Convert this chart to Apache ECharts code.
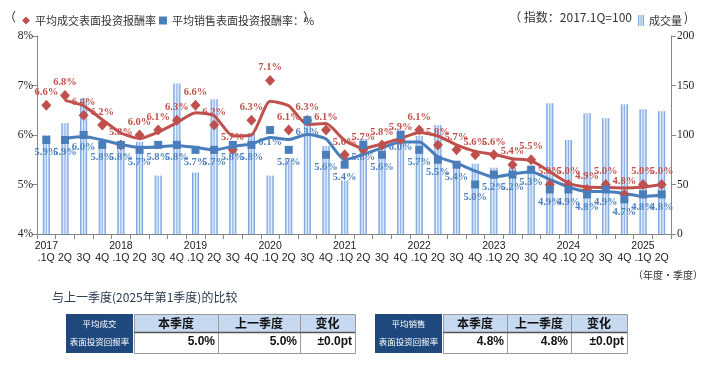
<!DOCTYPE html>
<html><head><meta charset="utf-8">
<script src="https://cdn.jsdelivr.net/npm/echarts@6/dist/echarts.min.js"></script>
<style>html,body{margin:0;padding:0;background:#fff}#c{width:710px;height:372px}</style>
</head><body><div id="c"></div>
<script>
// ---- data ----
const years = ['2017','2018','2019','2020','2021','2022','2023','2024','2025'];
const quarters = ['.1Q','2Q','3Q','4Q'];
const lastYearQuarters = 2;
const nameDeal = '平均成交表面投资报酬率';
const nameAsk = '平均销售表面投资报酬率';
const nameVolume = '成交量';
// transaction yield (%), diamonds
const yieldDeal = [6.6,6.8,6.4,6.2, 5.8,6.0,6.1,6.3, 6.6,6.2,5.7,6.3, 7.1,6.1,6.3,6.1,
                   5.6,5.7,5.8,5.9, 6.1,5.8,5.7,5.6, 5.6,5.4,5.5,5.0, 5.0,4.9,5.0,4.8, 5.0,5.0];
// asking yield (%), squares
const yieldAsk = [5.9,5.9,6.0,5.8, 5.8,5.7,5.8,5.8, 5.7,5.7,5.8,5.8, 6.1,5.7,6.3,5.6,
                  5.4,5.8,5.6,6.0, 5.7,5.5,5.4,5.0, 5.2,5.2,5.3,4.9, 4.9,4.8,4.9,4.7, 4.8,4.8];
// trend lines
const trendDeal = [null,6.70,6.59,6.31, 6.04,5.93,6.06,6.25, 6.45,6.39,5.98,6.00, 6.68,6.59,6.21,6.23,
                   5.89,5.73,5.82,5.93, 6.05,5.98,5.80,5.67, 5.61,5.52,5.48,5.26, 5.03,4.95,4.94,4.93, 4.95,5.00];
const trendAsk = [null,5.93,5.97,5.90, 5.81,5.75,5.76,5.79, 5.75,5.70,5.77,5.82, 5.95,5.91,6.01,5.92,
                  5.50,5.61,5.74,5.86, 5.86,5.56,5.43,5.27, 5.15,5.21,5.26,5.10, 4.95,4.86,4.86,4.82, 4.76,4.79];
// volume index (2017.1Q = 100)
const volume = [100,112,137,90, 93,93,59,152, 62,136,94,102, 59,75,116,89,
                54,96,89,105, 99,110,72,71, 67,67,68,132, 95,122,117,131, 126,124];
const leftTicks = {min:4, max:8, interval:1};
const rightTicks = {min:0, max:200, interval:50};
const tableHeaders = ['本季度','上一季度','变化'];
const tableRowNames = [['平均成交','表面投资回报率'],['平均销售','表面投资回报率']];
const compareTitle = '与上一季度(2025年第1季度)的比较';

// ---- build ----
const categories = [];
years.forEach((y,i)=>{
  const n = i===years.length-1 ? lastYearQuarters : 4;
  for(let q=0;q<n;q++) categories.push(q===0 ? y+'\n'+quarters[q] : '\n'+quarters[q]);
});

const RED = '#c0504d', BLUE = '#4a7ebb', TXT = '#333';
const serif = '"Liberation Serif","DejaVu Serif",serif';
const sans = '"Liberation Sans",Arial,sans-serif';
const cjk = '"Noto Sans CJK SC","Noto Sans",sans-serif';

const barColor = new echarts.graphic.LinearGradient(0,0,1,0,[
  {offset:0,color:'#5b8ed6'},{offset:0.18,color:'#a9c6ee'},{offset:0.32,color:'#eef4fc'},
  {offset:0.5,color:'#87aee4'},{offset:0.68,color:'#eef4fc'},{offset:0.82,color:'#a9c6ee'},{offset:1,color:'#5b8ed6'}]);

function fmt(v){return v.toFixed(1)+'%';}
function change(a,b){const d=a-b; return (Math.abs(d)<0.05?'±':(d>0?'+':'-'))+Math.abs(d).toFixed(1)+'pt';}

const graphics = [];
function txt(x,y,t,opt){graphics.push({type:'text',x:x,y:y,silent:true,style:Object.assign({text:t,fill:TXT,font:'11px '+cjk,textVerticalAlign:'middle'},opt||{})});}
function rect(x,y,w,h,fill,stroke){graphics.push({type:'rect',shape:{x:x,y:y,width:w,height:h},silent:true,style:{fill:fill,stroke:stroke||null,lineWidth:1}});}

// header texts
txt(4,17,'（',{font:'12px '+cjk});
txt(303,17,'）',{font:'12px '+cjk});
txt(632,17,'（ 指数：2017.1Q=100',{font:'12px '+cjk,textAlign:'right'});
txt(684,17,')',{font:'12px '+cjk});
txt(703,275,'（年度·季度）',{font:'10px '+cjk,textAlign:'right'});
// comparison title
txt(52,297,compareTitle,{font:'12px '+cjk,fill:'#2a3a50'});

function table(x0,cols,rowName,vals){
  const top=314, mid=332, bot=353;
  rect(x0,top,cols[0]-x0-1,bot-top,'#1f497d');
  txt((x0+cols[0]-1)/2,324,rowName[0],{font:'8.5px '+cjk,fill:'#fff',textAlign:'center'});
  txt((x0+cols[0]-1)/2,342,rowName[1],{font:'8.5px '+cjk,fill:'#fff',textAlign:'center'});
  for(let i=0;i<3;i++){
    const a=cols[i], b=cols[i+1];
    rect(a+0.5,top+0.5,b-a,mid-top,'#c6d9f1','#9a9a9a');
    rect(a+0.5,mid+0.5,b-a,bot-mid,'#ffffff','#9a9a9a');
    txt((a+b)/2,323,tableHeaders[i],{font:'bold 12px '+cjk,fill:'#111',textAlign:'center'});
    txt(b-3,342,vals[i],{font:'bold 12px '+sans,fill:'#111',textAlign:'right'});
  }
  graphics.push({type:'line',silent:true,shape:{x1:cols[0],y1:mid+0.5,x2:cols[3],y2:mid+0.5},style:{stroke:'#555',lineWidth:1.5}});
}
const n = yieldDeal.length;
table(66,[134,218,300,355],tableRowNames[0],[fmt(yieldDeal[n-1]),fmt(yieldDeal[n-2]),change(yieldDeal[n-1],yieldDeal[n-2])]);
table(375,[443,507,571,627],tableRowNames[1],[fmt(yieldAsk[n-1]),fmt(yieldAsk[n-2]),change(yieldAsk[n-1],yieldAsk[n-2])]);

const axisLineStyle = {show:true,lineStyle:{color:'#868686',width:1}};
const option = {
  animation:false,
  backgroundColor:'#fff',
  grid:{left:37,right:39,top:36,bottom:138},
  legend:[
    {left:17,top:10,itemWidth:8,itemHeight:8,itemGap:3,selectedMode:false,
     textStyle:{fontSize:11,fontFamily:cjk,color:TXT},
     formatter:function(name){return name===nameAsk? name+'：%' : name;},
     data:[{name:nameDeal,icon:'diamond'},{name:nameAsk,icon:'rect'}]},
    {left:633,top:10,itemWidth:6,itemHeight:11,selectedMode:false,
     textStyle:{fontSize:11,fontFamily:cjk,color:TXT},
     data:[{name:nameVolume,icon:'rect'}]}
  ],
  xAxis:{type:'category',data:categories,boundaryGap:true,
    axisLine:axisLineStyle,
    axisTick:{show:true,length:5,lineStyle:{color:'#868686'}},
    axisLabel:{interval:0,fontSize:10.5,fontFamily:sans,color:'#222',lineHeight:12,margin:6},
    splitLine:{show:false}},
  yAxis:[
    {type:'value',min:leftTicks.min,max:leftTicks.max,interval:leftTicks.interval,
     axisLine:axisLineStyle,axisTick:{show:true,length:5,lineStyle:{color:'#868686'}},
     axisLabel:{formatter:'{value}%',fontSize:11.5,fontFamily:serif,color:'#222',margin:4},
     splitLine:{show:false}},
    {type:'value',min:rightTicks.min,max:rightTicks.max,interval:rightTicks.interval,position:'right',
     axisLine:axisLineStyle,axisTick:{show:true,length:5,lineStyle:{color:'#868686'}},
     axisLabel:{fontSize:11.5,fontFamily:serif,color:'#222',margin:6},
     splitLine:{show:false}}
  ],
  series:[
    {name:nameVolume,type:'bar',yAxisIndex:1,data:volume,barWidth:7,itemStyle:{color:barColor},z:1},
    {name:'成交趋势',type:'line',data:trendDeal,smooth:0.2,symbol:'none',lineStyle:{color:RED,width:3},z:3},
    {name:'销售趋势',type:'line',data:trendAsk,smooth:0.2,symbol:'none',lineStyle:{color:BLUE,width:3},z:3},
    {name:nameDeal,type:'scatter',data:yieldDeal,symbol:'diamond',symbolSize:[10,11],
     itemStyle:{color:RED,opacity:1},z:4,
     label:{show:true,position:'top',distance:2,formatter:p=>fmt(p.value),
       color:RED,fontFamily:serif,fontWeight:'bold',fontSize:10.5}},
    {name:nameAsk,type:'scatter',data:yieldAsk,symbol:'rect',symbolSize:8,
     itemStyle:{color:BLUE,opacity:1},z:4,
     label:{show:true,position:'bottom',distance:3,formatter:p=>fmt(p.value),
       color:'#4f81bd',fontFamily:serif,fontWeight:'bold',fontSize:10.5}}
  ],
  graphic:graphics
};
const chart = echarts.init(document.getElementById('c'),null,{renderer:'canvas'});
chart.setOption(option);
</script></body></html>
